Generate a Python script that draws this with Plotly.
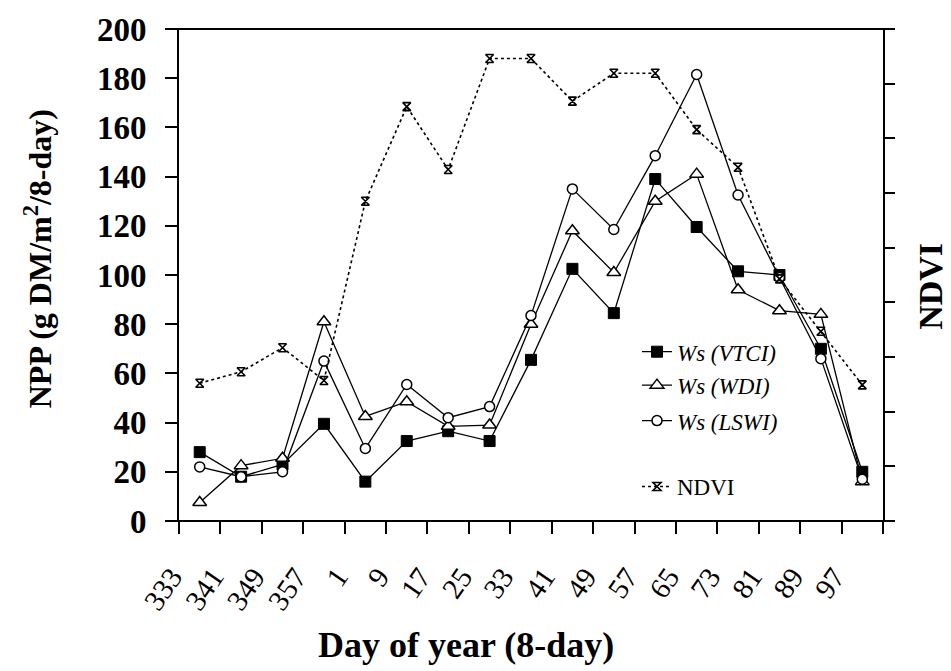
import plotly.graph_objects as go

days = ["333", "341", "349", "357", "1", "9", "17", "25", "33", "41", "49", "57", "65", "73", "81", "89", "97"]
npp_vtci = [28, 18, 23, 39.5, 16, 32.5, 36.5, 32.5, 65.5, 102.5, 84.5, 139, 119.5, 101.5, 100, 70, 20]
npp_wdi = [7.5, 22.5, 25.5, 81, 42.5, 48.5, 38.5, 39, 80, 118, 101, 130, 141, 94, 85.5, 84, 16]
npp_lswi = [22, 18, 20, 65, 29.5, 55.5, 42, 46.5, 83.5, 135, 118.5, 148.5, 181.5, 132.5, 99, 66, 17]
ndvi = [0.252, 0.273, 0.317, 0.257, 0.585, 0.758, 0.643, 0.846, 0.846, 0.768, 0.819, 0.819, 0.716, 0.647, 0.443, 0.347, 0.249]

FONT = "Liberation Serif"
BLACK = "#000000"

fig = go.Figure()

fig.add_trace(go.Scatter(
    x=days, y=ndvi, name="NDVI", yaxis="y2", mode="lines+markers",
    line=dict(color=BLACK, width=1.6, dash="dot"),
    marker=dict(symbol="hourglass-open", size=8, color=BLACK, line=dict(color=BLACK, width=1.6)),
    legend="legend4",
))
fig.add_trace(go.Scatter(
    x=days, y=npp_vtci, name="<i>Ws (VTCI)</i>", mode="lines+markers",
    line=dict(color=BLACK, width=1.3),
    marker=dict(symbol="square", size=11, color=BLACK, line=dict(color=BLACK, width=1)),
    legend="legend",
))
fig.add_trace(go.Scatter(
    x=days, y=npp_wdi, name="<i>Ws (WDI)</i>", mode="lines+markers",
    line=dict(color=BLACK, width=1.3),
    marker=dict(symbol="triangle-up", size=12, color="white", line=dict(color=BLACK, width=1.5)),
    legend="legend2",
))
fig.add_trace(go.Scatter(
    x=days, y=npp_lswi, name="<i>Ws (LSWI)</i>", mode="lines+markers",
    line=dict(color=BLACK, width=1.3),
    marker=dict(symbol="circle", size=10, color="white", line=dict(color=BLACK, width=1.5)),
    legend="legend3",
))

W, H = 951, 671
L, R, T, B = 179, 68, 21, 150
pw, ph = W - L - R, H - T - B

def px(xp):
    return (xp - L) / pw

def py(yp):
    return (H - B - yp) / ph

leg_common = dict(xanchor="left", yanchor="middle", bgcolor="rgba(0,0,0,0)",
                  font=dict(family=FONT, size=23, color=BLACK), borderwidth=0)

fig.update_layout(
    width=W, height=H,
    margin=dict(l=L, r=R, t=T, b=B),
    paper_bgcolor="white", plot_bgcolor="white",
    font=dict(family=FONT, color=BLACK),
    showlegend=True,
    legend=dict(x=px(637), y=py(349), **leg_common),
    legend2=dict(x=px(637), y=py(383), **leg_common),
    legend3=dict(x=px(637), y=py(419), **leg_common),
    legend4=dict(x=px(637), y=py(486), **leg_common),
    xaxis=dict(
        type="category", range=[-0.5, 16.5], tickson="boundaries",
        ticks="outside", ticklen=12, tickwidth=1.5, tickcolor=BLACK,
        tickangle=-55, tickfont=dict(family=FONT, size=29, color=BLACK),
        ticklabelstandoff=32, ticklabelshift=-28,
        showline=False, showgrid=False, zeroline=False,
    ),
    yaxis=dict(
        range=[0, 200], dtick=20, ticks="outside", ticklen=12, tickwidth=1.5, tickcolor=BLACK,
        showline=True, linewidth=2, linecolor=BLACK, showgrid=False, zeroline=False,
        ticklabelstandoff=12,
        tickfont=dict(family=FONT, size=33, color=BLACK, weight="bold"),
    ),
    yaxis2=dict(
        range=[0, 0.9], dtick=0.1, overlaying="y", side="right",
        ticks="outside", ticklen=10, tickwidth=1.5, tickcolor=BLACK,
        showticklabels=False, showline=True, linewidth=2, linecolor=BLACK,
        showgrid=False, zeroline=False,
    ),
    shapes=[
        dict(type="line", xref="paper", yref="paper", x0=px(165), x1=px(893), y0=0, y1=0,
             line=dict(color=BLACK, width=2)),
        dict(type="line", xref="paper", yref="paper", x0=px(165), x1=px(893), y0=1, y1=1,
             line=dict(color=BLACK, width=2)),
    ],
    annotations=[
        dict(text="<b>NPP (g DM/m<sup>2</sup>/8-day)</b>", xref="paper", yref="paper",
             x=px(38), y=py(255), xanchor="center", yanchor="middle", textangle=-90,
             showarrow=False, font=dict(family=FONT, size=32, color=BLACK)),
        dict(text="<b>NDVI</b>", xref="paper", yref="paper",
             x=px(931), y=py(283), xanchor="center", yanchor="middle", textangle=-90,
             showarrow=False, font=dict(family=FONT, size=34, color=BLACK)),
        dict(text="<b>Day of year (8-day)</b>", xref="paper", yref="paper",
             x=px(466), y=py(647), xanchor="center", yanchor="middle",
             showarrow=False, font=dict(family=FONT, size=36, color=BLACK)),
    ],
)

fig.write_html("out.html")
